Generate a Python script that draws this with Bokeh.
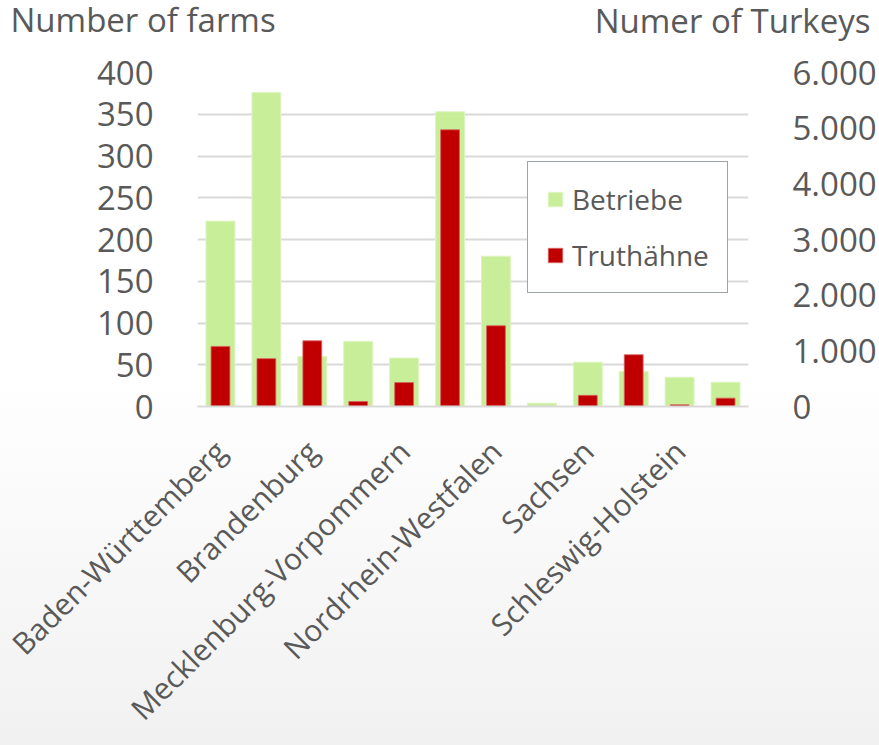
import math
from bokeh.plotting import figure
from bokeh.models import (Range1d, LinearAxis, FixedTicker, Title, Label,
                          Legend, LegendItem, ColumnDataSource)
from bokeh.embed import file_html
from bokeh.resources import INLINE

# ---- data ----
states = ["Baden-Württemberg", "Bayern", "Brandenburg", "Hessen",
          "Mecklenburg-Vorpommern", "Niedersachsen", "Nordrhein-Westfalen",
          "Rheinland-Pfalz", "Sachsen", "Sachsen-Anhalt", "Schleswig-Holstein",
          "Thüringen"]
shown_labels = ["Baden-Württemberg", "Brandenburg", "Mecklenburg-Vorpommern",
                "Nordrhein-Westfalen", "Sachsen", "Schleswig-Holstein"]
betriebe = [222, 376, 60, 78, 58, 353, 180, 4, 53, 42, 35, 29]
truthaehne = [1080, 860, 1180, 90, 430, 4970, 1450, 0, 200, 930, 30, 150]
left_ticks = [0, 50, 100, 150, 200, 250, 300, 350, 400]
right_ticks = [0, 1000, 2000, 3000, 4000, 5000, 6000]
right_tick_labels = ["0", "1.000", "2.000", "3.000", "4.000", "5.000", "6.000"]
series_names = ["Betriebe", "Truthähne"]
left_title = "Number of farms"
right_title = "Numer of Turkeys"

FONT = "Open Sans"
TXT = "#595959"
GRID = "#d9d9d9"
GREEN = "#c9ee99"
RED = "#c00000"

pos = list(range(len(states)))
src = ColumnDataSource(dict(pos=pos, state=states, betriebe=betriebe, truthaehne=truthaehne))

p = figure(width=879, height=745, x_range=Range1d(-0.5, len(states) - 0.5),
           y_range=Range1d(0, 400), output_backend="svg", toolbar_location=None,
           min_border_left=197, min_border_right=131, min_border_top=72,
           min_border_bottom=338)
p.extra_y_ranges = {"turkeys": Range1d(0, 6000)}

p.background_fill_alpha = 0
p.border_fill_alpha = 0
p.outline_line_color = None
p.styles = {"background": "linear-gradient(to bottom, #ffffff 0%, #ffffff 50%, #f1f1f1 100%)"}

r1 = p.vbar(x="pos", top="betriebe", width=0.63, source=src,
            fill_color=GREEN, line_color="#ddf5c0", line_width=1)
r2 = p.vbar(x="pos", top="truthaehne", width=0.41, source=src, y_range_name="turkeys",
            fill_color=RED, line_color="#d86060", line_width=0.8)

# x axis
xa = p.xaxis[0]
shown_pos = [i for i, s in enumerate(states) if s in shown_labels]
xa.ticker = FixedTicker(ticks=shown_pos)
xa.major_label_overrides = {i: states[i] for i in shown_pos}
xa.major_label_orientation = math.pi / 4
xa.major_label_text_font = FONT
xa.major_label_text_font_size = "30px"
xa.major_label_text_color = TXT
xa.major_tick_line_color = None
xa.minor_tick_line_color = None
xa.axis_line_color = GRID
xa.axis_line_width = 2
xa.major_label_standoff = 33

# left axis
ya = p.yaxis[0]
ya.ticker = FixedTicker(ticks=left_ticks)
ya.major_label_text_font = FONT
ya.major_label_text_font_size = "33px"
ya.major_label_text_color = TXT
ya.major_tick_line_color = None
ya.minor_tick_line_color = None
ya.axis_line_color = None
ya.major_label_standoff = 38

# right axis
ra = LinearAxis(y_range_name="turkeys", ticker=FixedTicker(ticks=right_ticks))
ra.major_label_overrides = {t: l for t, l in zip(right_ticks, right_tick_labels)}
ra.major_label_text_font = FONT
ra.major_label_text_font_size = "33px"
ra.major_label_text_color = TXT
ra.major_tick_line_color = None
ra.minor_tick_line_color = None
ra.axis_line_color = None
ra.major_label_standoff = 38
p.add_layout(ra, "right")

p.xgrid.grid_line_color = None
p.ygrid.ticker = FixedTicker(ticks=left_ticks)
p.ygrid.grid_line_color = GRID
p.ygrid.grid_line_width = 2

# axis titles on one line above the plot
p.add_layout(Label(x=673, y=30, x_units="screen", y_units="screen", text=right_title,
                   text_font=FONT, text_font_size="33px", text_color=TXT,
                   text_align="right", text_baseline="bottom"), "above")
p.add_layout(Title(text=left_title, align="left", offset=-187, standoff=-29,
                   vertical_align="bottom", text_font=FONT, text_font_size="33px",
                   text_font_style="normal", text_color=TXT), "above")

legend = Legend(items=[LegendItem(label=series_names[0], renderers=[r1]),
                       LegendItem(label=series_names[1], renderers=[r2])],
                location=(330, 113))
legend.label_text_font = FONT
legend.label_text_font_size = "28px"
legend.label_text_color = TXT
legend.glyph_width = 18
legend.glyph_height = 18
legend.label_standoff = 8
legend.padding = 18
legend.spacing = 18
legend.margin = 0
legend.border_line_color = "#3d4b53"
legend.border_line_width = 1.5
legend.background_fill_color = "white"
legend.background_fill_alpha = 1
p.add_layout(legend, "center")

open("out.html", "w").write(file_html(p, INLINE))
